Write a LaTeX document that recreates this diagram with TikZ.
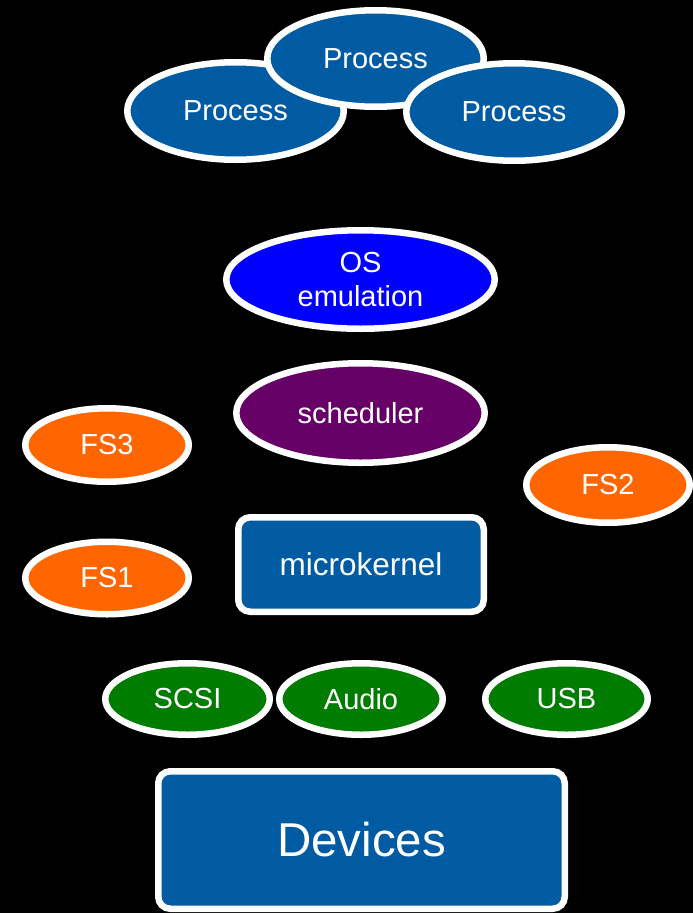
\documentclass[tikz,border=0pt]{standalone}
\usepackage{fontspec}
\setmainfont{Liberation Sans}
\usetikzlibrary{shapes.geometric}
\definecolor{procblue}{RGB}{0,91,162}
\definecolor{osblue}{RGB}{0,0,255}
\definecolor{schedpurple}{RGB}{102,0,102}
\definecolor{fsorange}{RGB}{255,102,0}
\definecolor{drvgreen}{RGB}{0,125,0}
\begin{document}
\begin{tikzpicture}[x=1pt,y=-1pt,
  base/.style={draw=white,line width=6.5pt,text=white,inner sep=0pt,
    font=\fontsize{29}{34}\selectfont,align=center},
  oval/.style={base,ellipse},
  box/.style={base,rectangle,rounded corners=12pt}]
\fill[black] (0,0) rectangle (693,913);
\useasboundingbox (0,0) rectangle (693,913);
% processes
\node[oval,fill=procblue,minimum width=216.5pt,minimum height=97.5pt] (p1) at (235.5,111) {Process};
\node[oval,fill=procblue,minimum width=216.5pt,minimum height=96.5pt] (p2) at (375.5,58.5) {Process};
\node[oval,fill=procblue,minimum width=215.5pt,minimum height=97.5pt] (p3) at (514,112) {Process};
% OS emulation and scheduler
\node[oval,fill=osblue,minimum width=268.5pt,minimum height=98.5pt] (os) at (360.5,279.5) {OS\\emulation};
\node[oval,fill=schedpurple,minimum width=248.5pt,minimum height=99.5pt] (sch) at (360.5,413) {scheduler};
% file systems
\node[oval,fill=fsorange,minimum width=163.5pt,minimum height=73.5pt] (fs3) at (107,445) {FS3};
\node[oval,fill=fsorange,minimum width=163.5pt,minimum height=72.5pt] (fs1) at (107,578) {FS1};
\node[oval,fill=fsorange,minimum width=163.5pt,minimum height=75.5pt] (fs2) at (608,485) {FS2};
% microkernel
\node[box,fill=procblue,minimum width=245.5pt,minimum height=94.5pt,
  font=\fontsize{31.5}{36}\selectfont] (mk) at (361,564.5) {microkernel};
% drivers
\node[oval,fill=drvgreen,minimum width=164.5pt,minimum height=71.5pt] (scsi) at (187.5,699) {SCSI};
\node[oval,fill=drvgreen,minimum width=163.5pt,minimum height=71.5pt] (audio) at (361,699) {Audio};
\node[oval,fill=drvgreen,minimum width=162.5pt,minimum height=71.5pt] (usb) at (566.5,699) {USB};
% devices
\node[box,fill=procblue,minimum width=406.5pt,minimum height=137.5pt,
  font=\fontsize{47.5}{54}\selectfont] (dev) at (361.5,840) {Devices};
\end{tikzpicture}
\end{document}
